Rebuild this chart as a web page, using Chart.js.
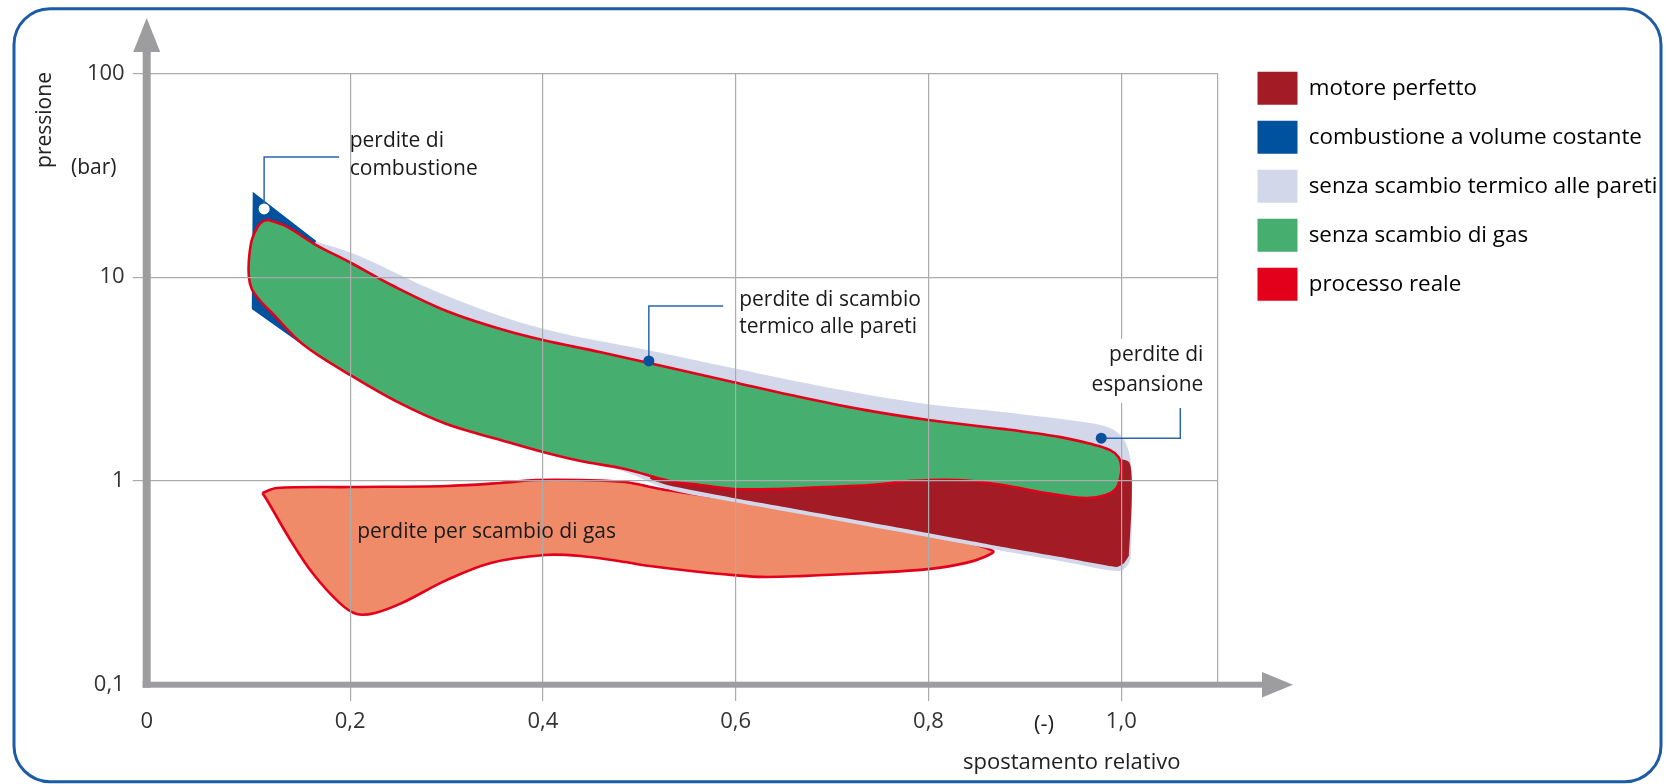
<!DOCTYPE html>
<html>
<head>
<meta charset="utf-8">
<script src="https://cdn.jsdelivr.net/npm/chart.js@4.4.1/dist/chart.umd.min.js"></script>
<style>
html,body{margin:0;padding:0;background:#fff;overflow:hidden}
canvas{display:block}
</style>
</head>
<body>
<canvas id="c" width="1666" height="784"></canvas>
<script>
// ---------- data (x = spostamento relativo, p = pressione in bar) ----------
const seriesNames  = ['motore perfetto','combustione a volume costante','senza scambio termico alle pareti','senza scambio di gas','processo reale'];
const seriesColors = ['#a31b24','#00519e','#d2d7ea','#46ae6f','#e3001b'];

const X_MIN = -0.011, X_MAX = 1.1, Y_MIN = 0.1, Y_MAX = 100;
const xTickValues = [X_MIN, 0.2, 0.4, 0.6, 0.8, 1.0, 1.1];
const xTickLabels = ['0','0,2','0,4','0,6','0,8','1,0',''];
const yTickValues = [0.1, 1, 10, 100];
const yTickLabels = ['0,1','1','10','100'];

// motore perfetto (visible part: expansion end / compression line)
const motorePerfetto = [[0.926,1.295],[1.008,1.238],[1.008,0.433],[1.003,0.396],[0.995,0.378],[0.937,0.423],[0.877,0.474],[0.771,0.587],[0.667,0.720],[0.598,0.824],[0.529,0.955],[0.511,1.033],[0.563,1.418],[0.771,1.418],[0.926,1.295]];
// combustione a volume costante
const combustioneVolumeCostante = [[0.099,26.2],[0.165,15.04],[0.148,11.86],[0.148,6.16],[0.152,4.59],[0.098,6.97],[0.099,26.2]];
// senza scambio termico alle pareti
const senzaScambioTermico = [[0.138,16.46],[0.163,15.04],[0.207,12.84],[0.281,8.84],[0.356,6.44],[0.418,5.32],[0.508,4.39],[0.597,3.58],[0.698,2.86],[0.800,2.38],[0.877,2.18],[0.969,1.92],[0.988,1.82],[0.999,1.68],[1.006,1.48],[1.010,1.197],[1.010,0.433],[1.006,0.382],[0.997,0.361],[0.937,0.405],[0.877,0.453],[0.771,0.561],[0.667,0.688],[0.598,0.788],[0.529,0.913],[0.491,1.081],[0.418,1.40],[0.356,1.70],[0.304,2.15],[0.252,2.85],[0.200,4.01],[0.159,5.08],[0.143,7.72],[0.138,12.13],[0.138,16.46]];
// ciclo reale, anello di alta pressione (senza scambio di gas / processo reale)
const cicloReale = [[0.116,19.06],[0.134,17.72],[0.163,14.53],[0.201,11.73],[0.245,9.04],[0.300,6.82],[0.356,5.56],[0.400,4.91],[0.459,4.29],[0.510,3.79],[0.597,3.06],[0.657,2.64],[0.729,2.25],[0.800,1.99],[0.877,1.80],[0.937,1.64],[0.968,1.52],[0.988,1.42],[0.997,1.31],[1.000,1.17],[0.999,1.045],[0.995,0.923],[0.984,0.853],[0.963,0.824],[0.922,0.872],[0.877,0.955],[0.830,1.01],[0.783,1.00],[0.740,0.955],[0.691,0.933],[0.644,0.913],[0.598,0.913],[0.563,0.955],[0.531,1.00],[0.485,1.144],[0.439,1.252],[0.400,1.386],[0.356,1.588],[0.300,1.90],[0.249,2.44],[0.200,3.31],[0.152,4.64],[0.118,6.74],[0.106,7.72],[0.098,8.74],[0.095,10.0],[0.095,12.13],[0.098,15.21],[0.104,17.62],[0.110,18.85],[0.116,19.06]];
// anello di scambio di gas (perdite per scambio di gas)
const scambioGas = [[0.109,0.872],[0.124,0.923],[0.200,0.933],[0.300,0.944],[0.356,0.977],[0.393,1.010],[0.439,1.010],[0.485,0.988],[0.522,0.913],[0.563,0.853],[0.598,0.806],[0.667,0.704],[0.771,0.574],[0.833,0.507],[0.867,0.453],[0.858,0.423],[0.839,0.396],[0.802,0.370],[0.738,0.353],[0.667,0.341],[0.627,0.338],[0.598,0.345],[0.563,0.357],[0.511,0.382],[0.485,0.400],[0.439,0.428],[0.402,0.433],[0.346,0.396],[0.300,0.326],[0.254,0.252],[0.226,0.225],[0.207,0.222],[0.189,0.252],[0.161,0.353],[0.138,0.513],[0.115,0.788],[0.109,0.872]];

const annotazioni = [
  {righe:['perdite di','combustione'], testo:[0.1996,46.5], interlinea:28, allinea:'left', punto:[0.1108,21.6], colorePunto:'#ffffff', guida:[[0.1108,38.8],[0.1886,38.8]]},
  {righe:['perdite di scambio','termico alle pareti'], testo:[0.6036,7.72], interlinea:27, allinea:'left', punto:[0.5099,3.88], colorePunto:'#0b4f9d', guida:[[0.5099,7.22],[0.5870,7.22]]},
  {righe:['perdite di','espansione'], testo:[1.0851,4.15], interlinea:30, allinea:'right', punto:[0.9792,1.62], colorePunto:'#0b4f9d', guida:[[1.0612,1.62],[1.0612,2.28]], sfondo:true},
  {righe:['perdite per scambio di gas'], testo:[0.2073,0.561], interlinea:0, allinea:'left'}
];

// ---------- layout constants ----------
const FAMILY = "'Open Sans', 'DejaVu Sans', sans-serif";
const CW = 1666, CH = 784;
const AREA = {left:146.7, top:73.3, right:1217.7, bottom:684.7};
const LEGEND_BOX_LEFT = 1257.5, LEG_PAD = 16, LEG_FONT = 22.4, BOX_W = 40, BOX_H = 33;

function build(){
  const mctx = document.createElement('canvas').getContext('2d');
  mctx.font = LEG_FONT + 'px ' + FAMILY;
  const textW = Math.max(...seriesNames.map(t => mctx.measureText(t).width));
  const natW = LEG_PAD + BOX_W + LEG_FONT/2 + textW + 10;
  const wantW = CW - (LEGEND_BOX_LEFT - LEG_PAD);
  const padRight = Math.max(0, wantW - natW);

  const toXY = arr => arr.map(([x,p]) => ({x, y:p}));
  const ds = (label, arr, o) => Object.assign({
    label, data: toXY(arr), showLine:true, pointRadius:0, pointHoverRadius:0,
    borderWidth:0, borderColor:'transparent', fill:'shape', tension:0.35, borderJoinStyle:'round'
  }, o);

  const decor = {
    id:'decor',
    beforeDraw(chart){
      const ctx = chart.ctx; ctx.save();
      ctx.fillStyle = '#fff'; ctx.fillRect(0,0,chart.width,chart.height);
      ctx.beginPath(); ctx.roundRect(14,8.7,1647,773,36);
      ctx.lineWidth = 3; ctx.strokeStyle = '#1d5ba6'; ctx.stroke();
      ctx.restore();
    },
    afterDraw(chart){
      const {ctx, chartArea:a, scales:{x,y}} = chart;
      ctx.save();
      // axes with arrows
      ctx.fillStyle = '#9d9d9f';
      ctx.fillRect(a.left-4, a.top-21.3, 8, (a.bottom+3)-(a.top-21.3));
      ctx.beginPath(); ctx.moveTo(a.left-13.5, a.top-21.3); ctx.lineTo(a.left+13.5, a.top-21.3); ctx.lineTo(a.left, a.top-55.3); ctx.closePath(); ctx.fill();
      ctx.fillRect(a.left-4, a.bottom-3, (a.right+44.3)-(a.left-4), 6);
      ctx.beginPath(); ctx.moveTo(a.right+44.3, a.bottom-12.8); ctx.lineTo(a.right+44.3, a.bottom+12.8); ctx.lineTo(a.right+75.3, a.bottom); ctx.closePath(); ctx.fill();

      // axis titles
      ctx.fillStyle = '#222'; ctx.textBaseline = 'middle'; ctx.textAlign = 'center';
      ctx.font = '21px ' + FAMILY;
      ctx.save(); ctx.translate(44.6,120); ctx.rotate(-Math.PI/2); ctx.fillText('pressione',0,0); ctx.restore();
      ctx.fillText('(bar)', 93.8, 168.3);
      ctx.font = '22px ' + FAMILY;
      ctx.fillText('(-)', 1044, 725);
      ctx.fillText('spostamento relativo', 1071.7, 763);

      // annotations
      ctx.font = '21px ' + FAMILY;
      for (const an of annotazioni){
        const tx = x.getPixelForValue(an.testo[0]), ty = y.getPixelForValue(an.testo[1]);
        if (an.sfondo){
          const w = Math.max(...an.righe.map(r => ctx.measureText(r).width));
          ctx.fillStyle = '#fff';
          ctx.fillRect(tx - w - 4, ty - 16, w + 8, an.interlinea*(an.righe.length-1) + 34);
        }
        if (an.guida){
          ctx.strokeStyle = '#2a66b0'; ctx.lineWidth = 1.5;
          ctx.beginPath();
          ctx.moveTo(x.getPixelForValue(an.punto[0]), y.getPixelForValue(an.punto[1]));
          for (const g of an.guida) ctx.lineTo(x.getPixelForValue(g[0]), y.getPixelForValue(g[1]));
          ctx.stroke();
        }
        ctx.fillStyle = '#1a1a1a'; ctx.textAlign = an.allinea; ctx.textBaseline = 'middle';
        an.righe.forEach((r,i) => ctx.fillText(r, tx, ty + i*an.interlinea));
        if (an.punto){
          ctx.beginPath();
          ctx.arc(x.getPixelForValue(an.punto[0]), y.getPixelForValue(an.punto[1]), 5.5, 0, Math.PI*2);
          ctx.fillStyle = an.colorePunto; ctx.fill();
        }
      }
      ctx.restore();
    }
  };

  new Chart(document.getElementById('c'), {
    type:'scatter',
    data:{ datasets:[
      ds('processo reale', cicloReale, {fill:false, borderColor:seriesColors[4], borderWidth:2.6, backgroundColor:seriesColors[4]}),
      ds('senza scambio di gas', cicloReale, {backgroundColor:seriesColors[3]}),
      ds('combustione a volume costante', combustioneVolumeCostante, {backgroundColor:seriesColors[1], tension:0}),
      ds('motore perfetto', motorePerfetto, {backgroundColor:seriesColors[0], tension:0.15}),
      ds('senza scambio termico alle pareti', senzaScambioTermico, {backgroundColor:seriesColors[2]}),
      ds('perdite per scambio di gas', scambioGas, {backgroundColor:'#ef8b69', borderColor:seriesColors[4], borderWidth:2.6, tension:0.35})
    ]},
    options:{
      responsive:false, maintainAspectRatio:false, animation:false,
      events:[],
      layout:{ padding:{top:55.7, left:0, bottom:0, right:padRight} },
      font:{family:FAMILY},
      plugins:{
        tooltip:{enabled:false},
        legend:{
          position:'right', align:'start', maxWidth: wantW, onClick:()=>{},
          labels:{
            boxWidth:BOX_W, boxHeight:BOX_H, padding:LEG_PAD, color:'#222',
            font:{size:LEG_FONT, family:FAMILY},
            generateLabels:()=>seriesNames.map((t,i)=>({text:t, fillStyle:seriesColors[i], strokeStyle:seriesColors[i], lineWidth:0, hidden:false, datasetIndex:i}))
          }
        }
      },
      scales:{
        x:{
          type:'linear', min:X_MIN, max:X_MAX, position:'bottom',
          afterFit:s=>{ s.height = CH - AREA.bottom; },
          afterBuildTicks:s=>{ s.ticks = xTickValues.map(v=>({value:v})); },
          ticks:{ autoSkip:false, maxRotation:0, padding:7.5, color:'#333', font:{size:22, family:FAMILY},
                  callback:(v,i)=>xTickLabels[i] },
          grid:{ z:1, color:'#ababab', lineWidth:1.2, tickLength:16.3,
                 tickColor:c=> (c.index===0 || c.index===xTickValues.length-1) ? 'rgba(0,0,0,0)' : '#ababab' },
          border:{display:false}
        },
        y:{
          type:'logarithmic', min:Y_MIN, max:Y_MAX, position:'left',
          afterFit:s=>{ s.width = AREA.left; },
          afterBuildTicks:s=>{ s.ticks = yTickValues.map(v=>({value:v})); },
          ticks:{ autoSkip:false, padding:8, color:'#333', font:{size:22, family:FAMILY},
                  callback:(v,i)=>yTickLabels[i] },
          grid:{ z:1, color:'#ababab', lineWidth:1.2, tickLength:14,
                 tickColor:c=> c.index===0 ? 'rgba(0,0,0,0)' : '#ababab' },
          border:{display:false}
        },
        xTop:{ type:'linear', axis:'x', position:'top', display:true,
               grid:{display:false}, ticks:{display:false}, border:{display:false},
               afterFit:s=>{ s.height = AREA.top - 55.7; } },
        yRight:{ type:'linear', axis:'y', position:'right', display:true,
                 grid:{display:false}, ticks:{display:false}, border:{display:false},
                 afterFit:s=>{ s.width = Math.max(0, CW - padRight - s.chart.legend.width - AREA.right); } }
      }
    },
    plugins:[decor]
  });
}

if (document.fonts && document.fonts.load){
  Promise.all([document.fonts.load("22px 'Open Sans'"), document.fonts.load("21px 'Open Sans'")]).then(build, build);
} else build();
</script>
</body>
</html>
